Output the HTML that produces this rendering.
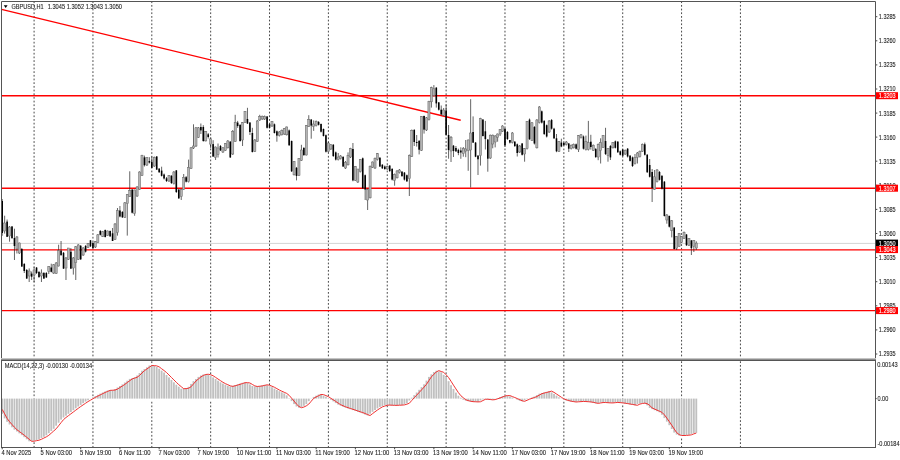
<!DOCTYPE html>
<html><head><meta charset="utf-8"><title>GBPUSD,H1</title>
<style>html,body{margin:0;padding:0;background:#fff;width:900px;height:460px;overflow:hidden}
svg text{font-family:"Liberation Sans","DejaVu Sans",Arial,sans-serif}</style>
</head><body>
<svg width="900" height="460" viewBox="0 0 900 460" style="display:block">
<rect x="0" y="0" width="900" height="460" fill="#fff"/>
<line x1="34.08" y1="1.3" x2="34.08" y2="358" stroke="#333" stroke-width="0.9" stroke-dasharray="1.75 1.93"/>
<path d="M34.08 361.3V398.6M34.08 442.26V447" stroke="#333" stroke-width="0.9" stroke-dasharray="1.75 1.93"/>
<line x1="92.95" y1="1.3" x2="92.95" y2="358" stroke="#333" stroke-width="0.9" stroke-dasharray="1.75 1.93"/>
<path d="M92.95 361.3V397.3M92.95 401.78V447" stroke="#333" stroke-width="0.9" stroke-dasharray="1.75 1.93"/>
<line x1="151.81" y1="1.3" x2="151.81" y2="358" stroke="#333" stroke-width="0.9" stroke-dasharray="1.75 1.93"/>
<path d="M151.81 361.3V365.6M151.81 401.78V447" stroke="#333" stroke-width="0.9" stroke-dasharray="1.75 1.93"/>
<line x1="210.67" y1="1.3" x2="210.67" y2="358" stroke="#333" stroke-width="0.9" stroke-dasharray="1.75 1.93"/>
<path d="M210.67 361.3V375.7M210.67 401.78V447" stroke="#333" stroke-width="0.9" stroke-dasharray="1.75 1.93"/>
<line x1="269.53" y1="1.3" x2="269.53" y2="358" stroke="#333" stroke-width="0.9" stroke-dasharray="1.75 1.93"/>
<path d="M269.53 361.3V386.2M269.53 401.78V447" stroke="#333" stroke-width="0.9" stroke-dasharray="1.75 1.93"/>
<line x1="328.40" y1="1.3" x2="328.40" y2="358" stroke="#333" stroke-width="0.9" stroke-dasharray="1.75 1.93"/>
<path d="M328.40 361.3V398.3M328.40 401.78V447" stroke="#333" stroke-width="0.9" stroke-dasharray="1.75 1.93"/>
<line x1="387.26" y1="1.3" x2="387.26" y2="358" stroke="#333" stroke-width="0.9" stroke-dasharray="1.75 1.93"/>
<path d="M387.26 361.3V398.6M387.26 405.46V447" stroke="#333" stroke-width="0.9" stroke-dasharray="1.75 1.93"/>
<line x1="446.12" y1="1.3" x2="446.12" y2="358" stroke="#333" stroke-width="0.9" stroke-dasharray="1.75 1.93"/>
<path d="M446.12 361.3V377.5M446.12 401.78V447" stroke="#333" stroke-width="0.9" stroke-dasharray="1.75 1.93"/>
<line x1="504.98" y1="1.3" x2="504.98" y2="358" stroke="#333" stroke-width="0.9" stroke-dasharray="1.75 1.93"/>
<path d="M504.98 361.3V395.6M504.98 401.78V447" stroke="#333" stroke-width="0.9" stroke-dasharray="1.75 1.93"/>
<line x1="563.85" y1="1.3" x2="563.85" y2="358" stroke="#333" stroke-width="0.9" stroke-dasharray="1.75 1.93"/>
<path d="M563.85 361.3V398.6M563.85 401.78V447" stroke="#333" stroke-width="0.9" stroke-dasharray="1.75 1.93"/>
<line x1="622.71" y1="1.3" x2="622.71" y2="358" stroke="#333" stroke-width="0.9" stroke-dasharray="1.75 1.93"/>
<path d="M622.71 361.3V398.6M622.71 405.46V447" stroke="#333" stroke-width="0.9" stroke-dasharray="1.75 1.93"/>
<line x1="681.57" y1="1.3" x2="681.57" y2="358" stroke="#333" stroke-width="0.9" stroke-dasharray="1.75 1.93"/>
<path d="M681.57 361.3V398.6M681.57 438.58V447" stroke="#333" stroke-width="0.9" stroke-dasharray="1.75 1.93"/>
<line x1="740.43" y1="1.3" x2="740.43" y2="358" stroke="#333" stroke-width="0.9" stroke-dasharray="1.75 1.93"/>
<line x1="740.43" y1="361.3" x2="740.43" y2="447" stroke="#333" stroke-width="0.9" stroke-dasharray="1.75 1.93"/>
<g fill="#c0c0c0"><rect x="1.28" y="398.6" width="1.84" height="15.3"/><rect x="3.73" y="398.6" width="1.84" height="19.8"/><rect x="6.19" y="398.6" width="1.84" height="23.2"/><rect x="8.64" y="398.6" width="1.84" height="25.9"/><rect x="11.09" y="398.6" width="1.84" height="28.7"/><rect x="13.54" y="398.6" width="1.84" height="31.1"/><rect x="16.00" y="398.6" width="1.84" height="32.9"/><rect x="18.45" y="398.6" width="1.84" height="34.8"/><rect x="20.90" y="398.6" width="1.84" height="36.6"/><rect x="23.35" y="398.6" width="1.84" height="38.6"/><rect x="25.81" y="398.6" width="1.84" height="40.7"/><rect x="28.26" y="398.6" width="1.84" height="42.7"/><rect x="30.71" y="398.6" width="1.84" height="42.6"/><rect x="33.16" y="398.6" width="1.84" height="42.1"/><rect x="35.62" y="398.6" width="1.84" height="41.6"/><rect x="38.07" y="398.6" width="1.84" height="40.7"/><rect x="40.52" y="398.6" width="1.84" height="39.5"/><rect x="42.97" y="398.6" width="1.84" height="38.2"/><rect x="45.43" y="398.6" width="1.84" height="36.7"/><rect x="47.88" y="398.6" width="1.84" height="34.6"/><rect x="50.33" y="398.6" width="1.84" height="32.4"/><rect x="52.78" y="398.6" width="1.84" height="30.2"/><rect x="55.24" y="398.6" width="1.84" height="27.1"/><rect x="57.69" y="398.6" width="1.84" height="24.1"/><rect x="60.14" y="398.6" width="1.84" height="21.0"/><rect x="62.59" y="398.6" width="1.84" height="18.9"/><rect x="65.05" y="398.6" width="1.84" height="17.1"/><rect x="67.50" y="398.6" width="1.84" height="15.2"/><rect x="69.95" y="398.6" width="1.84" height="13.4"/><rect x="72.41" y="398.6" width="1.84" height="11.6"/><rect x="74.86" y="398.6" width="1.84" height="9.7"/><rect x="77.31" y="398.6" width="1.84" height="7.9"/><rect x="79.76" y="398.6" width="1.84" height="6.3"/><rect x="82.22" y="398.6" width="1.84" height="4.6"/><rect x="84.67" y="398.6" width="1.84" height="3.0"/><rect x="87.12" y="398.6" width="1.84" height="1.6"/><rect x="89.57" y="398.6" width="1.84" height="0.2"/><rect x="92.03" y="397.3" width="1.84" height="1.3"/><rect x="94.48" y="396.1" width="1.84" height="2.5"/><rect x="96.93" y="394.8" width="1.84" height="3.8"/><rect x="99.38" y="393.6" width="1.84" height="5.0"/><rect x="101.84" y="392.5" width="1.84" height="6.1"/><rect x="104.29" y="391.4" width="1.84" height="7.2"/><rect x="106.74" y="390.4" width="1.84" height="8.2"/><rect x="109.19" y="390.2" width="1.84" height="8.4"/><rect x="111.65" y="390.1" width="1.84" height="8.5"/><rect x="114.10" y="389.1" width="1.84" height="9.5"/><rect x="116.55" y="387.5" width="1.84" height="11.1"/><rect x="119.00" y="386.0" width="1.84" height="12.6"/><rect x="121.46" y="384.4" width="1.84" height="14.2"/><rect x="123.91" y="382.5" width="1.84" height="16.1"/><rect x="126.36" y="380.7" width="1.84" height="17.9"/><rect x="128.82" y="378.9" width="1.84" height="19.7"/><rect x="131.27" y="378.1" width="1.84" height="20.5"/><rect x="133.72" y="377.3" width="1.84" height="21.3"/><rect x="136.17" y="375.5" width="1.84" height="23.1"/><rect x="138.63" y="373.0" width="1.84" height="25.6"/><rect x="141.08" y="370.7" width="1.84" height="27.9"/><rect x="143.53" y="369.0" width="1.84" height="29.6"/><rect x="145.98" y="367.3" width="1.84" height="31.3"/><rect x="148.44" y="365.5" width="1.84" height="33.1"/><rect x="150.89" y="365.6" width="1.84" height="33.0"/><rect x="153.34" y="365.9" width="1.84" height="32.7"/><rect x="155.79" y="366.9" width="1.84" height="31.7"/><rect x="158.25" y="368.7" width="1.84" height="29.9"/><rect x="160.70" y="370.6" width="1.84" height="28.0"/><rect x="163.15" y="372.5" width="1.84" height="26.1"/><rect x="165.60" y="375.0" width="1.84" height="23.6"/><rect x="168.06" y="377.4" width="1.84" height="21.2"/><rect x="170.51" y="379.9" width="1.84" height="18.7"/><rect x="172.96" y="382.3" width="1.84" height="16.3"/><rect x="175.41" y="384.7" width="1.84" height="13.9"/><rect x="177.87" y="386.7" width="1.84" height="11.9"/><rect x="180.32" y="388.7" width="1.84" height="9.9"/><rect x="182.77" y="388.6" width="1.84" height="10.0"/><rect x="185.22" y="388.2" width="1.84" height="10.4"/><rect x="187.68" y="386.8" width="1.84" height="11.8"/><rect x="190.13" y="383.9" width="1.84" height="14.7"/><rect x="192.58" y="381.1" width="1.84" height="17.5"/><rect x="195.04" y="379.0" width="1.84" height="19.6"/><rect x="197.49" y="376.9" width="1.84" height="21.7"/><rect x="199.94" y="375.5" width="1.84" height="23.1"/><rect x="202.39" y="374.5" width="1.84" height="24.1"/><rect x="204.85" y="374.2" width="1.84" height="24.4"/><rect x="207.30" y="374.7" width="1.84" height="23.9"/><rect x="209.75" y="375.7" width="1.84" height="22.9"/><rect x="212.20" y="377.4" width="1.84" height="21.2"/><rect x="214.66" y="379.0" width="1.84" height="19.6"/><rect x="217.11" y="380.7" width="1.84" height="17.9"/><rect x="219.56" y="382.3" width="1.84" height="16.3"/><rect x="222.01" y="383.6" width="1.84" height="15.0"/><rect x="224.47" y="384.7" width="1.84" height="13.9"/><rect x="226.92" y="385.8" width="1.84" height="12.8"/><rect x="229.37" y="386.4" width="1.84" height="12.2"/><rect x="231.82" y="385.7" width="1.84" height="12.9"/><rect x="234.28" y="385.1" width="1.84" height="13.5"/><rect x="236.73" y="384.3" width="1.84" height="14.3"/><rect x="239.18" y="383.5" width="1.84" height="15.1"/><rect x="241.63" y="382.7" width="1.84" height="15.9"/><rect x="244.09" y="382.6" width="1.84" height="16.0"/><rect x="246.54" y="383.0" width="1.84" height="15.6"/><rect x="248.99" y="384.4" width="1.84" height="14.2"/><rect x="251.45" y="385.9" width="1.84" height="12.7"/><rect x="253.90" y="386.5" width="1.84" height="12.1"/><rect x="256.35" y="386.2" width="1.84" height="12.4"/><rect x="258.80" y="386.0" width="1.84" height="12.6"/><rect x="261.26" y="385.4" width="1.84" height="13.2"/><rect x="263.71" y="384.8" width="1.84" height="13.8"/><rect x="266.16" y="385.2" width="1.84" height="13.4"/><rect x="268.61" y="386.2" width="1.84" height="12.4"/><rect x="271.07" y="387.2" width="1.84" height="11.4"/><rect x="273.52" y="388.6" width="1.84" height="10.0"/><rect x="275.97" y="390.0" width="1.84" height="8.6"/><rect x="278.42" y="391.2" width="1.84" height="7.4"/><rect x="280.88" y="392.3" width="1.84" height="6.3"/><rect x="283.33" y="393.4" width="1.84" height="5.2"/><rect x="285.78" y="395.3" width="1.84" height="3.3"/><rect x="288.23" y="398.2" width="1.84" height="0.4"/><rect x="290.69" y="398.6" width="1.84" height="2.5"/><rect x="293.14" y="398.6" width="1.84" height="5.5"/><rect x="295.59" y="398.6" width="1.84" height="7.9"/><rect x="298.04" y="398.6" width="1.84" height="9.1"/><rect x="300.50" y="398.6" width="1.84" height="8.5"/><rect x="302.95" y="398.6" width="1.84" height="7.2"/><rect x="305.40" y="398.6" width="1.84" height="5.5"/><rect x="307.85" y="398.6" width="1.84" height="2.6"/><rect x="310.31" y="398.4" width="1.84" height="0.2"/><rect x="312.76" y="396.9" width="1.84" height="1.7"/><rect x="315.21" y="395.7" width="1.84" height="2.9"/><rect x="317.67" y="394.5" width="1.84" height="4.1"/><rect x="320.12" y="394.6" width="1.84" height="4.0"/><rect x="322.57" y="395.6" width="1.84" height="3.0"/><rect x="325.02" y="396.7" width="1.84" height="1.9"/><rect x="327.48" y="398.3" width="1.84" height="0.3"/><rect x="329.93" y="398.6" width="1.84" height="1.2"/><rect x="332.38" y="398.6" width="1.84" height="2.8"/><rect x="334.83" y="398.6" width="1.84" height="4.5"/><rect x="337.29" y="398.6" width="1.84" height="6.1"/><rect x="339.74" y="398.6" width="1.84" height="7.1"/><rect x="342.19" y="398.6" width="1.84" height="8.2"/><rect x="344.64" y="398.6" width="1.84" height="9.1"/><rect x="347.10" y="398.6" width="1.84" height="9.9"/><rect x="349.55" y="398.6" width="1.84" height="10.7"/><rect x="352.00" y="398.6" width="1.84" height="11.5"/><rect x="354.45" y="398.6" width="1.84" height="12.3"/><rect x="356.91" y="398.6" width="1.84" height="13.2"/><rect x="359.36" y="398.6" width="1.84" height="14.0"/><rect x="361.81" y="398.6" width="1.84" height="14.9"/><rect x="364.26" y="398.6" width="1.84" height="16.0"/><rect x="366.72" y="398.6" width="1.84" height="16.9"/><rect x="369.17" y="398.6" width="1.84" height="15.1"/><rect x="371.62" y="398.6" width="1.84" height="13.2"/><rect x="374.08" y="398.6" width="1.84" height="11.4"/><rect x="376.53" y="398.6" width="1.84" height="9.8"/><rect x="378.98" y="398.6" width="1.84" height="8.3"/><rect x="381.43" y="398.6" width="1.84" height="7.5"/><rect x="383.89" y="398.6" width="1.84" height="6.6"/><rect x="386.34" y="398.6" width="1.84" height="6.5"/><rect x="388.79" y="398.6" width="1.84" height="6.6"/><rect x="391.24" y="398.6" width="1.84" height="6.7"/><rect x="393.70" y="398.6" width="1.84" height="6.7"/><rect x="396.15" y="398.6" width="1.84" height="6.6"/><rect x="398.60" y="398.6" width="1.84" height="6.5"/><rect x="401.05" y="398.6" width="1.84" height="6.3"/><rect x="403.51" y="398.6" width="1.84" height="5.6"/><rect x="405.96" y="398.6" width="1.84" height="4.6"/><rect x="408.41" y="398.6" width="1.84" height="1.9"/><rect x="410.86" y="397.7" width="1.84" height="0.9"/><rect x="413.32" y="395.1" width="1.84" height="3.5"/><rect x="415.77" y="392.5" width="1.84" height="6.1"/><rect x="418.22" y="389.8" width="1.84" height="8.8"/><rect x="420.67" y="387.1" width="1.84" height="11.5"/><rect x="423.13" y="384.3" width="1.84" height="14.3"/><rect x="425.58" y="380.6" width="1.84" height="18.0"/><rect x="428.03" y="376.9" width="1.84" height="21.7"/><rect x="430.48" y="374.3" width="1.84" height="24.3"/><rect x="432.94" y="372.0" width="1.84" height="26.6"/><rect x="435.39" y="370.7" width="1.84" height="27.9"/><rect x="437.84" y="371.5" width="1.84" height="27.1"/><rect x="440.30" y="372.3" width="1.84" height="26.3"/><rect x="442.75" y="374.8" width="1.84" height="23.8"/><rect x="445.20" y="377.5" width="1.84" height="21.1"/><rect x="447.65" y="381.2" width="1.84" height="17.4"/><rect x="450.11" y="385.2" width="1.84" height="13.4"/><rect x="452.56" y="388.9" width="1.84" height="9.7"/><rect x="455.01" y="392.6" width="1.84" height="6.0"/><rect x="457.46" y="395.7" width="1.84" height="2.9"/><rect x="459.92" y="397.7" width="1.84" height="0.9"/><rect x="462.37" y="398.6" width="1.84" height="1.2"/><rect x="464.82" y="398.6" width="1.84" height="2.0"/><rect x="467.27" y="398.6" width="1.84" height="2.6"/><rect x="469.73" y="398.6" width="1.84" height="3.1"/><rect x="472.18" y="398.6" width="1.84" height="3.2"/><rect x="474.63" y="398.6" width="1.84" height="3.3"/><rect x="477.08" y="398.6" width="1.84" height="3.2"/><rect x="479.54" y="398.6" width="1.84" height="1.9"/><rect x="481.99" y="398.6" width="1.84" height="0.7"/><rect x="484.44" y="398.6" width="1.84" height="0.6"/><rect x="486.89" y="398.6" width="1.84" height="0.9"/><rect x="489.35" y="398.6" width="1.84" height="1.2"/><rect x="491.80" y="398.6" width="1.84" height="1.0"/><rect x="494.25" y="398.6" width="1.84" height="0.2"/><rect x="496.71" y="398.0" width="1.84" height="0.6"/><rect x="499.16" y="397.0" width="1.84" height="1.6"/><rect x="501.61" y="396.0" width="1.84" height="2.6"/><rect x="504.06" y="395.6" width="1.84" height="3.0"/><rect x="506.52" y="395.6" width="1.84" height="3.0"/><rect x="508.97" y="396.5" width="1.84" height="2.1"/><rect x="511.42" y="397.5" width="1.84" height="1.1"/><rect x="513.87" y="398.6" width="1.84" height="0.0"/><rect x="516.33" y="398.6" width="1.84" height="1.1"/><rect x="518.78" y="398.6" width="1.84" height="2.2"/><rect x="521.23" y="398.6" width="1.84" height="2.7"/><rect x="523.68" y="398.6" width="1.84" height="1.7"/><rect x="526.14" y="398.6" width="1.84" height="0.6"/><rect x="528.59" y="398.3" width="1.84" height="0.3"/><rect x="531.04" y="397.5" width="1.84" height="1.1"/><rect x="533.49" y="396.5" width="1.84" height="2.1"/><rect x="535.95" y="395.1" width="1.84" height="3.5"/><rect x="538.40" y="393.7" width="1.84" height="4.9"/><rect x="540.85" y="393.0" width="1.84" height="5.6"/><rect x="543.30" y="392.4" width="1.84" height="6.2"/><rect x="545.76" y="391.8" width="1.84" height="6.8"/><rect x="548.21" y="391.1" width="1.84" height="7.5"/><rect x="550.66" y="392.4" width="1.84" height="6.2"/><rect x="553.12" y="394.0" width="1.84" height="4.6"/><rect x="555.57" y="395.6" width="1.84" height="3.0"/><rect x="558.02" y="397.3" width="1.84" height="1.3"/><rect x="560.47" y="398.6" width="1.84" height="0.3"/><rect x="562.93" y="398.6" width="1.84" height="1.2"/><rect x="565.38" y="398.6" width="1.84" height="2.0"/><rect x="567.83" y="398.6" width="1.84" height="2.6"/><rect x="570.28" y="398.6" width="1.84" height="3.0"/><rect x="572.74" y="398.6" width="1.84" height="3.4"/><rect x="575.19" y="398.6" width="1.84" height="3.2"/><rect x="577.64" y="398.6" width="1.84" height="3.0"/><rect x="580.09" y="398.6" width="1.84" height="2.8"/><rect x="582.55" y="398.6" width="1.84" height="2.9"/><rect x="585.00" y="398.6" width="1.84" height="3.1"/><rect x="587.45" y="398.6" width="1.84" height="3.3"/><rect x="589.90" y="398.6" width="1.84" height="3.7"/><rect x="592.36" y="398.6" width="1.84" height="4.3"/><rect x="594.81" y="398.6" width="1.84" height="4.8"/><rect x="597.26" y="398.6" width="1.84" height="4.4"/><rect x="599.71" y="398.6" width="1.84" height="4.0"/><rect x="602.17" y="398.6" width="1.84" height="3.9"/><rect x="604.62" y="398.6" width="1.84" height="4.1"/><rect x="607.07" y="398.6" width="1.84" height="4.3"/><rect x="609.52" y="398.6" width="1.84" height="4.3"/><rect x="611.98" y="398.6" width="1.84" height="4.1"/><rect x="614.43" y="398.6" width="1.84" height="3.8"/><rect x="616.88" y="398.6" width="1.84" height="4.0"/><rect x="619.34" y="398.6" width="1.84" height="4.3"/><rect x="621.79" y="398.6" width="1.84" height="4.6"/><rect x="624.24" y="398.6" width="1.84" height="5.0"/><rect x="626.69" y="398.6" width="1.84" height="5.4"/><rect x="629.15" y="398.6" width="1.84" height="5.8"/><rect x="631.60" y="398.6" width="1.84" height="6.3"/><rect x="634.05" y="398.6" width="1.84" height="6.7"/><rect x="636.50" y="398.6" width="1.84" height="5.5"/><rect x="638.96" y="398.6" width="1.84" height="4.9"/><rect x="641.41" y="398.6" width="1.84" height="4.5"/><rect x="643.86" y="398.6" width="1.84" height="5.1"/><rect x="646.31" y="398.6" width="1.84" height="6.8"/><rect x="648.77" y="398.6" width="1.84" height="9.3"/><rect x="651.22" y="398.6" width="1.84" height="10.5"/><rect x="653.67" y="398.6" width="1.84" height="11.6"/><rect x="656.12" y="398.6" width="1.84" height="12.6"/><rect x="658.58" y="398.6" width="1.84" height="13.7"/><rect x="661.03" y="398.6" width="1.84" height="16.2"/><rect x="663.48" y="398.6" width="1.84" height="19.5"/><rect x="665.93" y="398.6" width="1.84" height="23.0"/><rect x="668.39" y="398.6" width="1.84" height="26.6"/><rect x="670.84" y="398.6" width="1.84" height="30.4"/><rect x="673.29" y="398.6" width="1.84" height="34.0"/><rect x="675.75" y="398.6" width="1.84" height="36.0"/><rect x="678.20" y="398.6" width="1.84" height="36.9"/><rect x="680.65" y="398.6" width="1.84" height="36.9"/><rect x="683.10" y="398.6" width="1.84" height="36.8"/><rect x="685.56" y="398.6" width="1.84" height="36.6"/><rect x="688.01" y="398.6" width="1.84" height="36.2"/><rect x="690.46" y="398.6" width="1.84" height="35.3"/><rect x="692.91" y="398.6" width="1.84" height="34.5"/><rect x="695.37" y="398.6" width="1.84" height="34.2"/></g>
<polyline points="2.20,409.37 4.65,413.86 7.11,418.36 9.56,421.75 12.01,424.51 14.46,427.27 16.92,429.69 19.37,431.53 21.82,433.37 24.27,435.23 26.73,437.25 29.18,439.27 31.63,441.30 34.08,441.18 36.54,440.69 38.99,440.20 41.44,439.28 43.89,438.05 46.35,436.83 48.80,435.30 51.25,433.15 53.70,431.01 56.16,428.80 58.61,425.74 61.06,422.67 63.52,419.61 65.97,417.52 68.42,415.68 70.87,413.85 73.33,412.01 75.78,410.17 78.23,408.33 80.68,406.54 83.14,404.88 85.59,403.23 88.04,401.58 90.49,400.17 92.95,398.76 95.40,397.35 97.85,396.07 100.30,394.85 102.76,393.62 105.21,392.48 107.66,391.41 110.11,390.39 112.57,390.23 115.02,390.07 117.47,389.08 119.92,387.55 122.38,386.01 124.83,384.38 127.28,382.54 129.74,380.70 132.19,378.94 134.64,378.12 137.09,377.30 139.55,375.45 142.00,373.00 144.45,370.68 146.90,368.97 149.36,367.25 151.81,365.53 154.26,365.63 156.71,365.87 159.17,366.87 161.62,368.71 164.07,370.55 166.52,372.52 168.98,374.98 171.43,377.43 173.88,379.88 176.33,382.33 178.79,384.66 181.24,386.70 183.69,388.74 186.14,388.64 188.60,388.23 191.05,386.77 193.50,383.91 195.96,381.05 198.41,378.99 200.86,376.95 203.31,375.47 205.77,374.49 208.22,374.24 210.67,374.73 213.12,375.75 215.58,377.38 218.03,379.02 220.48,380.65 222.93,382.29 225.39,383.62 227.84,384.73 230.29,385.83 232.74,386.40 235.20,385.75 237.65,385.09 240.10,384.32 242.55,383.52 245.01,382.72 247.46,382.62 249.91,382.99 252.37,384.42 254.82,385.89 257.27,386.47 259.72,386.23 262.18,385.96 264.63,385.39 267.08,384.81 269.53,385.21 271.99,386.19 274.44,387.25 276.89,388.64 279.34,390.03 281.80,391.21 284.25,392.31 286.70,393.42 289.15,395.35 291.61,398.21 294.06,401.07 296.51,404.14 298.96,406.48 301.42,407.71 303.87,407.07 306.32,405.84 308.77,404.10 311.23,401.23 313.68,398.37 316.13,396.93 318.59,395.71 321.04,394.48 323.49,394.60 325.94,395.58 328.40,396.66 330.85,398.25 333.30,399.85 335.75,401.44 338.21,403.14 340.66,404.69 343.11,405.75 345.56,406.81 348.02,407.67 350.47,408.49 352.92,409.31 355.37,410.12 357.83,410.94 360.28,411.76 362.73,412.58 365.18,413.51 367.64,414.58 370.09,415.53 372.54,413.65 375.00,411.77 377.45,410.03 379.90,408.40 382.35,406.88 384.81,406.06 387.26,405.25 389.71,405.09 392.16,405.21 394.62,405.33 397.07,405.35 399.52,405.22 401.97,405.10 404.43,404.88 406.88,404.19 409.33,403.23 411.78,400.48 414.24,397.75 416.69,395.13 419.14,392.52 421.59,389.85 424.05,387.15 426.50,384.25 428.95,380.57 431.40,376.89 433.86,374.27 436.31,371.98 438.76,370.65 441.22,371.47 443.67,372.29 446.12,374.78 448.57,377.52 451.03,381.24 453.48,385.17 455.93,388.90 458.38,392.58 460.84,395.70 463.29,397.74 465.74,399.78 468.19,400.59 470.65,401.24 473.10,401.65 475.55,401.78 478.00,401.90 480.46,401.77 482.91,400.55 485.36,399.32 487.81,399.23 490.27,399.53 492.72,399.84 495.17,399.61 497.63,398.79 500.08,397.97 502.53,396.99 504.98,396.01 507.44,395.60 509.89,395.60 512.34,396.54 514.79,397.52 517.25,398.56 519.70,399.66 522.15,400.77 524.60,401.34 527.06,400.28 529.51,399.21 531.96,398.35 534.41,397.53 536.87,396.51 539.32,395.12 541.77,393.73 544.22,393.04 546.68,392.43 549.13,391.82 551.58,391.13 554.03,392.36 556.49,393.99 558.94,395.63 561.39,397.26 563.85,398.90 566.30,399.77 568.75,400.58 571.20,401.20 573.66,401.61 576.11,401.99 578.56,401.81 581.01,401.62 583.47,401.44 585.92,401.54 588.37,401.73 590.82,401.91 593.28,402.30 595.73,402.87 598.18,403.37 600.63,402.96 603.09,402.55 605.54,402.52 607.99,402.70 610.44,402.88 612.90,402.91 615.35,402.66 617.80,402.42 620.26,402.63 622.71,402.87 625.16,403.19 627.61,403.60 630.07,404.01 632.52,404.44 634.97,404.87 637.42,405.30 639.88,404.09 642.33,403.54 644.78,403.14 647.23,403.72 649.69,405.35 652.14,407.94 654.59,409.06 657.04,410.15 659.50,411.24 661.95,412.32 664.40,414.82 666.85,418.08 669.31,421.62 671.76,425.24 674.21,428.99 676.66,432.63 679.12,434.57 681.57,435.50 684.02,435.50 686.48,435.42 688.93,435.19 691.38,434.85 693.83,433.87 696.29,433.07" fill="none" stroke="#f03030" stroke-width="1"/>
<line x1="2" y1="243.4" x2="875" y2="243.4" stroke="#d4d4d4" stroke-width="1"/>
<line x1="2" y1="95.7" x2="875" y2="95.7" stroke="#ff0000" stroke-width="1.35"/>
<line x1="2" y1="188.2" x2="875" y2="188.2" stroke="#ff0000" stroke-width="1.35"/>
<line x1="2" y1="249.9" x2="875" y2="249.9" stroke="#ff0000" stroke-width="1.35"/>
<line x1="2" y1="310.6" x2="875" y2="310.6" stroke="#ff0000" stroke-width="1.35"/>
<line x1="1.5" y1="9.4" x2="460.7" y2="120.3" stroke="#ff0000" stroke-width="1.4"/>
<path d="M2.20 199.0V235.8M4.65 215.7V233.6M7.11 219.5V237.0M9.56 226.0V241.7M12.01 226.0V239.0M14.46 228.7V260.0M16.92 236.0V253.5M19.37 242.6V254.0M21.82 248.0V267.0M24.27 263.0V273.0M26.73 269.0V279.0M29.18 268.4V282.0M31.63 271.5V280.0M34.08 267.3V282.0M36.54 267.0V274.0M38.99 271.0V278.0M41.44 269.4V282.0M43.89 272.0V279.0M46.35 272.0V278.0M48.80 266.0V274.0M51.25 263.7V272.4M53.70 264.0V274.0M56.16 262.0V274.0M58.61 244.7V266.5M61.06 241.0V256.0M63.52 252.0V269.0M65.97 257.0V280.0M68.42 248.0V260.0M70.87 248.0V269.0M73.33 257.0V274.6M75.78 246.0V280.0M78.23 244.0V260.0M80.68 245.0V260.0M83.14 247.0V256.0M85.59 245.0V252.5M88.04 243.0V248.0M90.49 240.0V247.0M92.95 242.0V248.5M95.40 241.0V248.0M97.85 234.0V243.0M100.30 230.0V235.5M102.76 231.0V237.0M105.21 229.5V237.5M107.66 230.5V236.0M110.11 230.5V237.0M112.57 228.0V241.0M115.02 223.0V240.0M117.47 208.0V235.6M119.92 206.0V217.3M122.38 211.0V218.0M124.83 202.0V218.0M127.28 194.0V235.6M129.74 171.3V197.0M132.19 189.0V213.5M134.64 189.6V215.8M137.09 186.0V197.0M139.55 171.3V190.0M142.00 154.8V176.0M144.45 155.6V166.5M146.90 157.2V166.0M149.36 157.2V163.5M151.81 156.5V168.0M154.26 156.5V167.0M156.71 156.0V170.0M159.17 168.0V173.0M161.62 166.7V176.5M164.07 173.5V179.5M166.52 177.0V182.0M168.98 175.0V182.0M171.43 175.0V184.0M173.88 171.0V184.5M176.33 170.0V193.0M178.79 189.0V199.0M181.24 189.0V200.0M183.69 174.0V190.0M186.14 176.0V182.5M188.60 159.6V182.5M191.05 147.0V169.0M193.50 124.3V149.0M195.96 127.0V147.0M198.41 127.0V138.0M200.86 123.5V134.0M203.31 125.2V141.7M205.77 131.0V141.5M208.22 133.0V138.5M210.67 137.6V148.0M213.12 140.2V157.0M215.58 146.5V160.0M218.03 143.5V157.5M220.48 145.0V151.0M222.93 147.0V153.0M225.39 143.0V151.0M227.84 140.0V148.5M230.29 141.0V158.0M232.74 130.0V155.0M235.20 114.8V142.0M237.65 120.9V127.8M240.10 124.0V141.7M242.55 122.0V146.0M245.01 111.0V123.0M247.46 107.8V124.0M249.91 122.0V135.0M252.37 127.8V152.5M254.82 139.0V152.0M257.27 120.0V142.0M259.72 114.8V121.0M262.18 115.5V120.0M264.63 115.5V120.0M267.08 116.0V128.5M269.53 123.5V128.5M271.99 121.0V127.0M274.44 123.5V133.5M276.89 130.5V141.7M279.34 131.0V136.5M281.80 129.5V135.5M284.25 128.0V135.0M286.70 126.5V135.5M289.15 129.5V146.0M291.61 140.5V172.0M294.06 161.0V175.5M296.51 167.0V180.4M298.96 158.0V176.0M301.42 144.8V161.0M303.87 147.0V156.0M306.32 125.0V155.5M308.77 115.2V127.0M311.23 119.0V138.7M313.68 120.4V130.9M316.13 120.5V126.5M318.59 121.0V125.5M321.04 123.5V132.5M323.49 128.5V136.5M325.94 134.5V152.5M328.40 142.0V152.5M330.85 144.0V150.0M333.30 144.0V157.0M335.75 151.5V160.5M338.21 153.0V160.5M340.66 155.0V159.5M343.11 156.0V167.0M345.56 161.0V169.0M348.02 152.4V165.5M350.47 147.8V158.0M352.92 143.0V181.3M355.37 166.0V181.0M357.83 169.0V183.0M360.28 159.0V172.5M362.73 157.5V189.0M365.18 174.5V200.0M367.64 188.5V210.0M370.09 165.5V198.5M372.54 161.5V168.0M375.00 157.5V169.0M377.45 153.0V160.5M379.90 157.0V167.0M382.35 164.0V169.0M384.81 165.5V169.8M387.26 165.5V169.8M389.71 165.0V172.0M392.16 168.0V180.5M394.62 173.5V185.7M397.07 170.0V178.5M399.52 169.0V173.5M401.97 171.0V177.0M404.43 172.0V180.5M406.88 174.5V182.0M409.33 154.5V196.0M411.78 129.5V157.0M414.24 129.0V146.0M416.69 135.0V146.6M419.14 140.0V154.4M421.59 116.0V151.0M424.05 115.6V133.6M426.50 117.0V131.0M428.95 100.8V120.5M431.40 86.7V107.6M433.86 85.1V96.5M436.31 87.0V107.6M438.76 102.0V110.5M441.22 105.5V115.0M443.67 108.0V116.0M446.12 104.3V135.5M448.57 125.0V158.7M451.03 136.0V162.0M453.48 145.0V157.0M455.93 146.0V152.0M458.38 148.7V155.2M460.84 147.3V158.8M463.29 147.0V156.7M465.74 140.0V157.2M468.19 139.5V170.8M470.65 99.2V187.5M473.10 116.4V143.0M475.55 142.0V157.2M478.00 155.0V175.0M480.46 117.8V165.6M482.91 119.0V136.5M485.36 120.9V149.5M487.81 139.0V171.7M490.27 134.5V159.0M492.72 134.5V148.3M495.17 135.0V147.4M497.63 133.5V141.7M500.08 129.0V136.0M502.53 125.2V132.0M504.98 128.0V147.0M507.44 131.0V140.0M509.89 140.0V143.5M512.34 132.0V143.5M514.79 141.0V147.0M517.25 143.5V156.5M519.70 145.0V153.0M522.15 143.0V155.5M524.60 148.0V161.7M527.06 121.0V149.5M529.51 118.5V140.0M531.96 122.0V141.0M534.41 126.0V144.5M536.87 119.0V148.5M539.32 106.0V123.5M541.77 110.5V123.5M544.22 120.0V135.0M546.68 124.5V137.5M549.13 120.0V133.0M551.58 119.0V129.6M554.03 127.8V139.0M556.49 134.0V152.2M558.94 141.0V152.0M561.39 138.7V147.2M563.85 142.0V146.0M566.30 141.0V145.5M568.75 143.0V152.0M571.20 144.5V149.5M573.66 143.5V148.5M576.11 143.5V149.5M578.56 135.0V152.0M581.01 134.0V138.5M583.47 135.5V149.5M585.92 135.6V150.5M588.37 120.9V150.5M590.82 134.8V149.6M593.28 144.5V151.0M595.73 148.0V158.0M598.18 143.5V160.2M600.63 138.3V163.5M603.09 135.0V148.0M605.54 127.8V155.0M607.99 148.0V161.7M610.44 145.0V160.0M612.90 142.0V148.5M615.35 140.5V148.5M617.80 141.0V153.0M620.26 150.5V155.5M622.71 149.0V156.5M625.16 149.5V155.0M627.61 148.0V157.5M630.07 155.0V161.5M632.52 156.5V167.0M634.97 154.0V164.5M637.42 152.0V163.5M639.88 150.5V157.5M642.33 143.5V152.0M644.78 142.6V155.5M647.23 154.0V173.0M649.69 159.0V177.5M652.14 169.0V202.0M654.59 170.0V190.0M657.04 169.0V182.5M659.50 171.0V180.5M661.95 175.0V189.5M664.40 181.0V216.5M666.85 214.0V223.7M669.31 215.5V227.5M671.76 220.0V237.4M674.21 227.0V249.5M676.66 236.0V250.0M679.12 233.0V247.0M681.57 236.0V243.0M684.02 231.5V239.0M686.48 234.0V246.0M688.93 238.0V246.0M691.38 240.0V255.0M693.83 240.0V252.0M696.29 241.3V249.9" stroke="#222" stroke-width="0.7" fill="none"/>
<g fill="#b4b4b4" stroke="#666" stroke-width="0.5"><rect x="3.60" y="223.0" width="2.1" height="8.0"/><rect x="8.51" y="227.0" width="2.1" height="9.0"/><rect x="15.87" y="237.0" width="2.1" height="12.0"/><rect x="18.32" y="243.0" width="2.1" height="10.0"/><rect x="28.13" y="271.0" width="2.1" height="5.0"/><rect x="33.03" y="270.0" width="2.1" height="5.0"/><rect x="40.39" y="273.0" width="2.1" height="3.0"/><rect x="47.75" y="266.4" width="2.1" height="4.9"/><rect x="52.65" y="264.8" width="2.1" height="8.2"/><rect x="55.11" y="263.0" width="2.1" height="10.5"/><rect x="57.56" y="250.6" width="2.1" height="15.4"/><rect x="64.92" y="258.0" width="2.1" height="10.0"/><rect x="67.37" y="248.0" width="2.1" height="11.3"/><rect x="72.28" y="258.0" width="2.1" height="10.0"/><rect x="74.73" y="246.8" width="2.1" height="15.8"/><rect x="77.18" y="245.0" width="2.1" height="14.3"/><rect x="82.09" y="248.0" width="2.1" height="7.0"/><rect x="86.99" y="243.6" width="2.1" height="3.8"/><rect x="94.35" y="241.7" width="2.1" height="5.3"/><rect x="96.80" y="234.8" width="2.1" height="7.6"/><rect x="101.71" y="231.8" width="2.1" height="4.5"/><rect x="106.61" y="231.0" width="2.1" height="4.6"/><rect x="113.97" y="224.0" width="2.1" height="15.4"/><rect x="116.42" y="210.5" width="2.1" height="22.0"/><rect x="123.78" y="202.8" width="2.1" height="14.5"/><rect x="126.23" y="194.5" width="2.1" height="9.1"/><rect x="128.69" y="190.7" width="2.1" height="6.0"/><rect x="133.59" y="190.0" width="2.1" height="23.5"/><rect x="136.04" y="187.0" width="2.1" height="9.0"/><rect x="138.50" y="172.0" width="2.1" height="17.6"/><rect x="140.95" y="155.6" width="2.1" height="20.0"/><rect x="145.85" y="157.5" width="2.1" height="7.5"/><rect x="153.21" y="157.4" width="2.1" height="8.6"/><rect x="167.93" y="175.6" width="2.1" height="5.4"/><rect x="172.83" y="172.0" width="2.1" height="11.7"/><rect x="180.19" y="189.6" width="2.1" height="6.9"/><rect x="182.64" y="177.4" width="2.1" height="12.2"/><rect x="187.55" y="167.4" width="2.1" height="14.3"/><rect x="190.00" y="147.8" width="2.1" height="20.9"/><rect x="192.45" y="146.0" width="2.1" height="2.0"/><rect x="194.91" y="127.8" width="2.1" height="18.2"/><rect x="197.36" y="127.8" width="2.1" height="9.6"/><rect x="204.72" y="131.7" width="2.1" height="9.2"/><rect x="209.62" y="138.9" width="2.1" height="5.2"/><rect x="214.53" y="147.0" width="2.1" height="10.4"/><rect x="216.98" y="148.0" width="2.1" height="6.5"/><rect x="221.88" y="147.8" width="2.1" height="4.2"/><rect x="224.34" y="143.5" width="2.1" height="6.9"/><rect x="226.79" y="141.0" width="2.1" height="6.8"/><rect x="231.69" y="131.3" width="2.1" height="22.7"/><rect x="234.15" y="122.6" width="2.1" height="19.1"/><rect x="241.50" y="122.6" width="2.1" height="17.4"/><rect x="243.96" y="111.3" width="2.1" height="11.3"/><rect x="253.77" y="140.0" width="2.1" height="11.3"/><rect x="256.22" y="121.0" width="2.1" height="20.7"/><rect x="258.67" y="116.5" width="2.1" height="3.5"/><rect x="261.13" y="116.5" width="2.1" height="2.5"/><rect x="263.58" y="116.5" width="2.1" height="2.5"/><rect x="270.94" y="121.7" width="2.1" height="4.3"/><rect x="278.29" y="132.0" width="2.1" height="3.6"/><rect x="280.75" y="130.4" width="2.1" height="4.4"/><rect x="283.20" y="128.7" width="2.1" height="5.3"/><rect x="285.65" y="127.0" width="2.1" height="7.8"/><rect x="293.01" y="161.7" width="2.1" height="13.1"/><rect x="297.91" y="158.7" width="2.1" height="16.5"/><rect x="300.37" y="150.0" width="2.1" height="10.4"/><rect x="305.27" y="125.6" width="2.1" height="29.4"/><rect x="307.72" y="119.6" width="2.1" height="6.9"/><rect x="312.63" y="124.0" width="2.1" height="2.5"/><rect x="315.08" y="121.3" width="2.1" height="4.3"/><rect x="327.35" y="143.0" width="2.1" height="8.7"/><rect x="329.80" y="144.8" width="2.1" height="4.2"/><rect x="337.16" y="157.0" width="2.1" height="2.6"/><rect x="339.61" y="156.0" width="2.1" height="2.7"/><rect x="344.51" y="162.2" width="2.1" height="5.8"/><rect x="346.97" y="155.6" width="2.1" height="9.2"/><rect x="349.42" y="148.5" width="2.1" height="8.5"/><rect x="354.32" y="166.5" width="2.1" height="13.9"/><rect x="356.78" y="169.0" width="2.1" height="13.0"/><rect x="359.23" y="159.6" width="2.1" height="12.1"/><rect x="366.59" y="189.5" width="2.1" height="10.5"/><rect x="369.04" y="166.5" width="2.1" height="31.3"/><rect x="371.49" y="162.0" width="2.1" height="5.4"/><rect x="373.95" y="158.3" width="2.1" height="9.7"/><rect x="376.40" y="153.7" width="2.1" height="5.9"/><rect x="386.21" y="166.5" width="2.1" height="2.5"/><rect x="393.57" y="174.3" width="2.1" height="6.1"/><rect x="396.02" y="171.0" width="2.1" height="6.8"/><rect x="398.47" y="170.0" width="2.1" height="2.6"/><rect x="408.28" y="155.5" width="2.1" height="23.2"/><rect x="410.73" y="130.4" width="2.1" height="26.1"/><rect x="420.54" y="116.5" width="2.1" height="33.8"/><rect x="425.45" y="117.8" width="2.1" height="12.2"/><rect x="427.90" y="101.3" width="2.1" height="18.3"/><rect x="430.35" y="87.7" width="2.1" height="14.1"/><rect x="432.81" y="88.8" width="2.1" height="6.8"/><rect x="442.62" y="110.0" width="2.1" height="5.4"/><rect x="449.98" y="137.4" width="2.1" height="13.6"/><rect x="462.24" y="148.4" width="2.1" height="5.2"/><rect x="464.69" y="149.0" width="2.1" height="2.0"/><rect x="467.14" y="140.0" width="2.1" height="10.4"/><rect x="469.60" y="133.0" width="2.1" height="17.0"/><rect x="479.41" y="118.5" width="2.1" height="37.2"/><rect x="489.22" y="135.2" width="2.1" height="22.8"/><rect x="491.67" y="135.2" width="2.1" height="8.8"/><rect x="494.12" y="136.0" width="2.1" height="6.0"/><rect x="496.58" y="134.0" width="2.1" height="3.4"/><rect x="499.03" y="129.6" width="2.1" height="4.4"/><rect x="501.48" y="126.0" width="2.1" height="5.3"/><rect x="511.29" y="133.0" width="2.1" height="9.6"/><rect x="518.65" y="146.0" width="2.1" height="6.0"/><rect x="523.55" y="148.7" width="2.1" height="5.3"/><rect x="526.01" y="121.7" width="2.1" height="27.0"/><rect x="530.91" y="122.8" width="2.1" height="17.6"/><rect x="535.82" y="120.0" width="2.1" height="27.8"/><rect x="538.27" y="107.0" width="2.1" height="15.6"/><rect x="548.08" y="121.0" width="2.1" height="11.0"/><rect x="557.89" y="141.7" width="2.1" height="9.6"/><rect x="565.25" y="142.0" width="2.1" height="2.5"/><rect x="570.15" y="145.2" width="2.1" height="3.5"/><rect x="572.61" y="144.3" width="2.1" height="3.5"/><rect x="577.51" y="135.6" width="2.1" height="14.0"/><rect x="579.96" y="134.8" width="2.1" height="2.6"/><rect x="584.87" y="141.7" width="2.1" height="7.9"/><rect x="587.32" y="142.6" width="2.1" height="7.0"/><rect x="592.23" y="145.2" width="2.1" height="5.2"/><rect x="597.13" y="144.5" width="2.1" height="12.5"/><rect x="599.58" y="142.6" width="2.1" height="7.8"/><rect x="602.04" y="135.6" width="2.1" height="11.8"/><rect x="606.94" y="148.7" width="2.1" height="7.0"/><rect x="611.85" y="142.6" width="2.1" height="5.2"/><rect x="624.11" y="150.4" width="2.1" height="3.6"/><rect x="633.92" y="157.4" width="2.1" height="6.1"/><rect x="636.37" y="153.0" width="2.1" height="4.4"/><rect x="638.83" y="151.3" width="2.1" height="5.2"/><rect x="641.28" y="144.3" width="2.1" height="7.0"/><rect x="653.54" y="176.8" width="2.1" height="12.7"/><rect x="655.99" y="170.0" width="2.1" height="11.7"/><rect x="665.80" y="215.0" width="2.1" height="5.0"/><rect x="670.71" y="220.8" width="2.1" height="9.8"/><rect x="675.62" y="236.4" width="2.1" height="11.8"/><rect x="678.07" y="233.5" width="2.1" height="12.7"/><rect x="680.52" y="236.4" width="2.1" height="5.9"/><rect x="682.97" y="232.5" width="2.1" height="5.9"/><rect x="687.88" y="238.4" width="2.1" height="6.8"/><rect x="692.78" y="240.4" width="2.1" height="5.8"/><rect x="695.24" y="243.1" width="2.1" height="4.9"/></g>
<g fill="#000"><rect x="1.40" y="201.0" width="1.6" height="32.0"/><rect x="6.31" y="221.6" width="1.6" height="15.2"/><rect x="11.21" y="226.5" width="1.6" height="11.5"/><rect x="13.66" y="238.0" width="1.6" height="8.0"/><rect x="21.02" y="249.0" width="1.6" height="17.5"/><rect x="23.47" y="264.0" width="1.6" height="7.0"/><rect x="25.93" y="270.0" width="1.6" height="8.5"/><rect x="30.83" y="273.6" width="1.6" height="3.1"/><rect x="35.74" y="267.6" width="1.6" height="5.4"/><rect x="38.19" y="272.0" width="1.6" height="5.0"/><rect x="43.09" y="273.0" width="1.6" height="5.5"/><rect x="45.55" y="273.0" width="1.6" height="4.4"/><rect x="50.45" y="267.5" width="1.6" height="4.3"/><rect x="60.26" y="250.6" width="1.6" height="4.4"/><rect x="62.72" y="252.8" width="1.6" height="15.8"/><rect x="70.07" y="251.7" width="1.6" height="16.9"/><rect x="79.88" y="245.8" width="1.6" height="13.5"/><rect x="84.79" y="246.0" width="1.6" height="5.7"/><rect x="89.69" y="240.3" width="1.6" height="6.0"/><rect x="92.15" y="243.0" width="1.6" height="5.0"/><rect x="99.50" y="231.0" width="1.6" height="3.8"/><rect x="104.41" y="230.0" width="1.6" height="7.0"/><rect x="109.31" y="231.0" width="1.6" height="5.3"/><rect x="111.77" y="233.3" width="1.6" height="7.7"/><rect x="119.12" y="210.5" width="1.6" height="6.0"/><rect x="121.58" y="212.0" width="1.6" height="5.3"/><rect x="131.39" y="189.6" width="1.6" height="23.1"/><rect x="143.65" y="157.4" width="1.6" height="7.8"/><rect x="148.56" y="161.0" width="1.6" height="1.6"/><rect x="151.01" y="161.7" width="1.6" height="6.1"/><rect x="155.91" y="156.5" width="1.6" height="13.1"/><rect x="158.37" y="168.7" width="1.6" height="3.5"/><rect x="160.82" y="170.6" width="1.6" height="5.3"/><rect x="163.27" y="174.5" width="1.6" height="4.0"/><rect x="165.72" y="178.3" width="1.6" height="2.7"/><rect x="170.63" y="175.9" width="1.6" height="7.1"/><rect x="175.53" y="170.4" width="1.6" height="21.6"/><rect x="177.99" y="189.6" width="1.6" height="8.7"/><rect x="185.34" y="177.2" width="1.6" height="4.5"/><rect x="200.06" y="127.0" width="1.6" height="3.4"/><rect x="202.51" y="127.0" width="1.6" height="14.0"/><rect x="207.42" y="134.3" width="1.6" height="2.7"/><rect x="212.32" y="144.1" width="1.6" height="12.4"/><rect x="219.68" y="146.0" width="1.6" height="4.4"/><rect x="229.49" y="141.7" width="1.6" height="15.7"/><rect x="236.85" y="122.6" width="1.6" height="3.4"/><rect x="239.30" y="125.0" width="1.6" height="16.0"/><rect x="246.66" y="119.0" width="1.6" height="4.5"/><rect x="249.11" y="122.6" width="1.6" height="9.4"/><rect x="251.57" y="133.0" width="1.6" height="19.0"/><rect x="266.28" y="116.5" width="1.6" height="11.3"/><rect x="268.73" y="124.3" width="1.6" height="3.5"/><rect x="273.64" y="124.3" width="1.6" height="8.7"/><rect x="276.09" y="131.3" width="1.6" height="4.3"/><rect x="288.35" y="130.4" width="1.6" height="14.8"/><rect x="290.81" y="141.0" width="1.6" height="30.3"/><rect x="295.71" y="167.8" width="1.6" height="8.2"/><rect x="303.07" y="148.0" width="1.6" height="7.0"/><rect x="310.43" y="119.6" width="1.6" height="6.0"/><rect x="317.79" y="122.0" width="1.6" height="2.8"/><rect x="320.24" y="124.0" width="1.6" height="7.7"/><rect x="322.69" y="129.0" width="1.6" height="7.0"/><rect x="325.14" y="135.2" width="1.6" height="16.5"/><rect x="332.50" y="144.8" width="1.6" height="11.2"/><rect x="334.95" y="152.4" width="1.6" height="7.2"/><rect x="342.31" y="157.0" width="1.6" height="9.5"/><rect x="352.12" y="149.0" width="1.6" height="31.4"/><rect x="361.93" y="158.3" width="1.6" height="29.9"/><rect x="364.38" y="175.2" width="1.6" height="14.3"/><rect x="379.10" y="157.8" width="1.6" height="8.7"/><rect x="381.55" y="164.8" width="1.6" height="3.5"/><rect x="384.01" y="166.5" width="1.6" height="2.5"/><rect x="388.91" y="165.6" width="1.6" height="5.4"/><rect x="391.36" y="169.0" width="1.6" height="10.6"/><rect x="401.17" y="171.7" width="1.6" height="4.3"/><rect x="403.63" y="172.6" width="1.6" height="7.0"/><rect x="406.08" y="175.2" width="1.6" height="6.1"/><rect x="413.44" y="130.0" width="1.6" height="12.0"/><rect x="415.89" y="142.0" width="1.6" height="1.0"/><rect x="418.34" y="140.9" width="1.6" height="8.8"/><rect x="423.25" y="116.0" width="1.6" height="13.6"/><rect x="435.51" y="87.7" width="1.6" height="15.7"/><rect x="437.96" y="102.4" width="1.6" height="7.3"/><rect x="440.42" y="109.7" width="1.6" height="4.7"/><rect x="445.32" y="110.4" width="1.6" height="24.4"/><rect x="447.77" y="135.0" width="1.6" height="15.0"/><rect x="452.68" y="145.7" width="1.6" height="5.3"/><rect x="455.13" y="148.0" width="1.6" height="3.3"/><rect x="457.58" y="149.9" width="1.6" height="3.1"/><rect x="460.04" y="150.5" width="1.6" height="2.0"/><rect x="472.30" y="132.0" width="1.6" height="10.6"/><rect x="474.75" y="142.6" width="1.6" height="14.1"/><rect x="477.20" y="155.7" width="1.6" height="3.6"/><rect x="482.11" y="119.6" width="1.6" height="16.4"/><rect x="484.56" y="131.3" width="1.6" height="7.8"/><rect x="487.01" y="139.6" width="1.6" height="19.1"/><rect x="504.18" y="128.7" width="1.6" height="16.5"/><rect x="506.64" y="132.0" width="1.6" height="7.0"/><rect x="509.09" y="140.0" width="1.6" height="2.6"/><rect x="513.99" y="141.7" width="1.6" height="4.3"/><rect x="516.45" y="144.3" width="1.6" height="8.7"/><rect x="521.35" y="143.5" width="1.6" height="11.3"/><rect x="528.71" y="119.6" width="1.6" height="19.5"/><rect x="533.61" y="127.0" width="1.6" height="16.5"/><rect x="540.97" y="111.3" width="1.6" height="11.3"/><rect x="543.42" y="121.0" width="1.6" height="13.0"/><rect x="545.88" y="125.2" width="1.6" height="11.3"/><rect x="550.78" y="120.0" width="1.6" height="8.7"/><rect x="553.24" y="128.7" width="1.6" height="9.6"/><rect x="555.69" y="138.3" width="1.6" height="13.0"/><rect x="560.59" y="142.6" width="1.6" height="3.9"/><rect x="563.05" y="143.0" width="1.6" height="2.0"/><rect x="567.95" y="143.5" width="1.6" height="5.2"/><rect x="575.31" y="144.3" width="1.6" height="4.4"/><rect x="582.67" y="136.5" width="1.6" height="12.2"/><rect x="590.02" y="141.7" width="1.6" height="5.3"/><rect x="594.93" y="149.1" width="1.6" height="7.9"/><rect x="604.74" y="141.0" width="1.6" height="13.0"/><rect x="609.64" y="146.0" width="1.6" height="11.4"/><rect x="614.55" y="141.3" width="1.6" height="6.5"/><rect x="617.00" y="141.7" width="1.6" height="10.5"/><rect x="619.46" y="151.3" width="1.6" height="3.5"/><rect x="621.91" y="149.6" width="1.6" height="6.1"/><rect x="626.81" y="148.7" width="1.6" height="7.8"/><rect x="629.27" y="155.7" width="1.6" height="5.2"/><rect x="631.72" y="157.4" width="1.6" height="8.6"/><rect x="643.98" y="144.3" width="1.6" height="10.5"/><rect x="646.43" y="154.8" width="1.6" height="17.4"/><rect x="648.89" y="165.0" width="1.6" height="11.8"/><rect x="651.34" y="172.0" width="1.6" height="16.0"/><rect x="658.70" y="172.0" width="1.6" height="7.8"/><rect x="661.15" y="175.9" width="1.6" height="12.7"/><rect x="663.60" y="181.7" width="1.6" height="34.3"/><rect x="668.51" y="216.0" width="1.6" height="10.7"/><rect x="673.41" y="227.6" width="1.6" height="21.4"/><rect x="685.68" y="234.5" width="1.6" height="10.7"/><rect x="690.58" y="240.4" width="1.6" height="7.8"/></g>
<path d="M1.5 358V1.5H875.5V358" fill="none" stroke="#555" stroke-width="1"/>
<rect x="1" y="358" width="875" height="1" fill="#c4c4c4"/>
<rect x="1" y="359" width="875" height="1" fill="#8c8c8c"/>
<rect x="1" y="360" width="875" height="1" fill="#555"/>
<rect x="1.5" y="360.5" width="874" height="87" fill="none" stroke="#555" stroke-width="1"/>
<line x1="876" y1="16.7" x2="877.3" y2="16.7" stroke="#333" stroke-width="0.9"/>
<line x1="876" y1="40.8" x2="877.3" y2="40.8" stroke="#333" stroke-width="0.9"/>
<line x1="876" y1="64.9" x2="877.3" y2="64.9" stroke="#333" stroke-width="0.9"/>
<line x1="876" y1="89.0" x2="877.3" y2="89.0" stroke="#333" stroke-width="0.9"/>
<line x1="876" y1="113.1" x2="877.3" y2="113.1" stroke="#333" stroke-width="0.9"/>
<line x1="876" y1="137.1" x2="877.3" y2="137.1" stroke="#333" stroke-width="0.9"/>
<line x1="876" y1="161.2" x2="877.3" y2="161.2" stroke="#333" stroke-width="0.9"/>
<line x1="876" y1="185.3" x2="877.3" y2="185.3" stroke="#333" stroke-width="0.9"/>
<line x1="876" y1="209.4" x2="877.3" y2="209.4" stroke="#333" stroke-width="0.9"/>
<line x1="876" y1="233.5" x2="877.3" y2="233.5" stroke="#333" stroke-width="0.9"/>
<line x1="876" y1="257.6" x2="877.3" y2="257.6" stroke="#333" stroke-width="0.9"/>
<line x1="876" y1="281.7" x2="877.3" y2="281.7" stroke="#333" stroke-width="0.9"/>
<line x1="876" y1="305.8" x2="877.3" y2="305.8" stroke="#333" stroke-width="0.9"/>
<line x1="876" y1="329.9" x2="877.3" y2="329.9" stroke="#333" stroke-width="0.9"/>
<line x1="876" y1="354.0" x2="877.3" y2="354.0" stroke="#333" stroke-width="0.9"/>
<g stroke-width="0.1" font-size="6.6" fill="#222" stroke="#222"><text x="878.8" y="19.1" textLength="16.8" lengthAdjust="spacingAndGlyphs">1.3285</text><text x="878.8" y="43.2" textLength="16.8" lengthAdjust="spacingAndGlyphs">1.3260</text><text x="878.8" y="67.3" textLength="16.8" lengthAdjust="spacingAndGlyphs">1.3235</text><text x="878.8" y="91.4" textLength="16.8" lengthAdjust="spacingAndGlyphs">1.3210</text><text x="878.8" y="115.5" textLength="16.8" lengthAdjust="spacingAndGlyphs">1.3185</text><text x="878.8" y="139.5" textLength="16.8" lengthAdjust="spacingAndGlyphs">1.3160</text><text x="878.8" y="163.6" textLength="16.8" lengthAdjust="spacingAndGlyphs">1.3135</text><text x="878.8" y="187.7" textLength="16.8" lengthAdjust="spacingAndGlyphs">1.3110</text><text x="878.8" y="211.8" textLength="16.8" lengthAdjust="spacingAndGlyphs">1.3085</text><text x="878.8" y="235.9" textLength="16.8" lengthAdjust="spacingAndGlyphs">1.3060</text><text x="878.8" y="260.0" textLength="16.8" lengthAdjust="spacingAndGlyphs">1.3035</text><text x="878.8" y="284.1" textLength="16.8" lengthAdjust="spacingAndGlyphs">1.3010</text><text x="878.8" y="308.2" textLength="16.8" lengthAdjust="spacingAndGlyphs">1.2985</text><text x="878.8" y="332.3" textLength="16.8" lengthAdjust="spacingAndGlyphs">1.2960</text><text x="878.8" y="356.4" textLength="16.8" lengthAdjust="spacingAndGlyphs">1.2935</text></g>
<rect x="876" y="92.2" width="22" height="7" fill="#ff0000"/><text x="878.8" y="98.1" textLength="16.8" lengthAdjust="spacingAndGlyphs" stroke-width="0.1" font-size="6.6" fill="#fff" stroke="#fff">1.3203</text>
<rect x="876" y="184.7" width="22" height="7" fill="#ff0000"/><text x="878.8" y="190.6" textLength="16.8" lengthAdjust="spacingAndGlyphs" stroke-width="0.1" font-size="6.6" fill="#fff" stroke="#fff">1.3107</text>
<rect x="876" y="307.1" width="22" height="7" fill="#ff0000"/><text x="878.8" y="313.0" textLength="16.8" lengthAdjust="spacingAndGlyphs" stroke-width="0.1" font-size="6.6" fill="#fff" stroke="#fff">1.2980</text>
<rect x="876" y="239.6" width="22" height="7" fill="#000000"/><text x="878.8" y="245.5" textLength="16.8" lengthAdjust="spacingAndGlyphs" stroke-width="0.1" font-size="6.6" fill="#fff" stroke="#fff">1.3050</text>
<rect x="876" y="246.1" width="22" height="7" fill="#ff0000"/><text x="878.8" y="252.0" textLength="16.8" lengthAdjust="spacingAndGlyphs" stroke-width="0.1" font-size="6.6" fill="#fff" stroke="#fff">1.3043</text>
<line x1="875.5" y1="398.6" x2="876.6" y2="398.6" stroke="#333" stroke-width="1"/>
<g stroke-width="0.1" font-size="6.6" fill="#222" stroke="#222"><text x="877.2" y="366.8" textLength="20.5" lengthAdjust="spacingAndGlyphs">0.00143</text><text x="877.5" y="401.0" textLength="10.8" lengthAdjust="spacingAndGlyphs">0.00</text><text x="877.4" y="445.6" textLength="22.2" lengthAdjust="spacingAndGlyphs">-0.00184</text></g>
<text x="4.75" y="368" stroke-width="0.1" font-size="6.6" fill="#222" stroke="#222" textLength="87.3" lengthAdjust="spacingAndGlyphs">MACD(14,22,3) -0.00130 -0.00134</text>
<path d="M3.8 5.3H7.6L5.7 8.0Z" fill="#000"/>
<text x="11.4" y="8.75" stroke-width="0.1" font-size="6.6" fill="#222" stroke="#222" textLength="32.2" lengthAdjust="spacingAndGlyphs">GBPUSD,H1</text>
<text x="47.7" y="8.75" stroke-width="0.1" font-size="6.6" fill="#222" stroke="#222" textLength="74.3" lengthAdjust="spacingAndGlyphs">1.3045 1.3052 1.3043 1.3050</text>
<line x1="2.20" y1="447.5" x2="2.20" y2="449.3" stroke="#333" stroke-width="0.9"/>
<line x1="41.44" y1="447.5" x2="41.44" y2="449.3" stroke="#333" stroke-width="0.9"/>
<line x1="80.68" y1="447.5" x2="80.68" y2="449.3" stroke="#333" stroke-width="0.9"/>
<line x1="119.92" y1="447.5" x2="119.92" y2="449.3" stroke="#333" stroke-width="0.9"/>
<line x1="159.17" y1="447.5" x2="159.17" y2="449.3" stroke="#333" stroke-width="0.9"/>
<line x1="198.41" y1="447.5" x2="198.41" y2="449.3" stroke="#333" stroke-width="0.9"/>
<line x1="237.65" y1="447.5" x2="237.65" y2="449.3" stroke="#333" stroke-width="0.9"/>
<line x1="276.89" y1="447.5" x2="276.89" y2="449.3" stroke="#333" stroke-width="0.9"/>
<line x1="316.13" y1="447.5" x2="316.13" y2="449.3" stroke="#333" stroke-width="0.9"/>
<line x1="355.37" y1="447.5" x2="355.37" y2="449.3" stroke="#333" stroke-width="0.9"/>
<line x1="394.62" y1="447.5" x2="394.62" y2="449.3" stroke="#333" stroke-width="0.9"/>
<line x1="433.86" y1="447.5" x2="433.86" y2="449.3" stroke="#333" stroke-width="0.9"/>
<line x1="473.10" y1="447.5" x2="473.10" y2="449.3" stroke="#333" stroke-width="0.9"/>
<line x1="512.34" y1="447.5" x2="512.34" y2="449.3" stroke="#333" stroke-width="0.9"/>
<line x1="551.58" y1="447.5" x2="551.58" y2="449.3" stroke="#333" stroke-width="0.9"/>
<line x1="590.82" y1="447.5" x2="590.82" y2="449.3" stroke="#333" stroke-width="0.9"/>
<line x1="630.07" y1="447.5" x2="630.07" y2="449.3" stroke="#333" stroke-width="0.9"/>
<line x1="669.31" y1="447.5" x2="669.31" y2="449.3" stroke="#333" stroke-width="0.9"/>
<g stroke-width="0.1" font-size="6.6" fill="#222" stroke="#222"><text x="1.4" y="455" textLength="29.8" lengthAdjust="spacingAndGlyphs">4 Nov 2025</text><text x="40.6" y="455" textLength="31.4" lengthAdjust="spacingAndGlyphs">5 Nov 03:00</text><text x="79.9" y="455" textLength="31.4" lengthAdjust="spacingAndGlyphs">5 Nov 19:00</text><text x="119.1" y="455" textLength="31.4" lengthAdjust="spacingAndGlyphs">6 Nov 11:00</text><text x="158.4" y="455" textLength="31.4" lengthAdjust="spacingAndGlyphs">7 Nov 03:00</text><text x="197.6" y="455" textLength="31.4" lengthAdjust="spacingAndGlyphs">7 Nov 19:00</text><text x="236.8" y="455" textLength="34.6" lengthAdjust="spacingAndGlyphs">10 Nov 11:00</text><text x="276.1" y="455" textLength="34.6" lengthAdjust="spacingAndGlyphs">11 Nov 03:00</text><text x="315.3" y="455" textLength="34.6" lengthAdjust="spacingAndGlyphs">11 Nov 19:00</text><text x="354.6" y="455" textLength="34.6" lengthAdjust="spacingAndGlyphs">12 Nov 11:00</text><text x="393.8" y="455" textLength="34.6" lengthAdjust="spacingAndGlyphs">13 Nov 03:00</text><text x="433.1" y="455" textLength="34.6" lengthAdjust="spacingAndGlyphs">13 Nov 19:00</text><text x="472.3" y="455" textLength="34.6" lengthAdjust="spacingAndGlyphs">14 Nov 11:00</text><text x="511.5" y="455" textLength="34.6" lengthAdjust="spacingAndGlyphs">17 Nov 03:00</text><text x="550.8" y="455" textLength="34.6" lengthAdjust="spacingAndGlyphs">17 Nov 19:00</text><text x="590.0" y="455" textLength="34.6" lengthAdjust="spacingAndGlyphs">18 Nov 11:00</text><text x="629.3" y="455" textLength="34.6" lengthAdjust="spacingAndGlyphs">19 Nov 03:00</text><text x="668.5" y="455" textLength="34.6" lengthAdjust="spacingAndGlyphs">19 Nov 19:00</text></g>
</svg>
</body></html>
